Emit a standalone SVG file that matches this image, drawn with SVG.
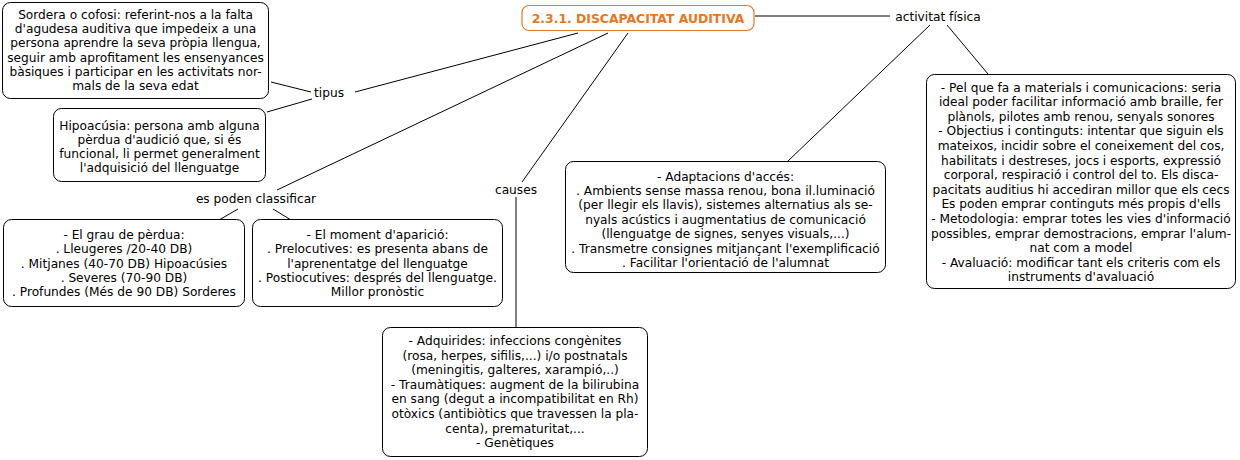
<svg xmlns="http://www.w3.org/2000/svg" width="1240" height="460" viewBox="0 0 1240 460">
<style>
.box{fill:#fff;stroke:#000;stroke-width:1}
.t{font-family:"DejaVu Sans","Liberation Sans",sans-serif;font-size:12.2px;fill:#000;text-anchor:middle}
.title{font-family:"DejaVu Sans","Liberation Sans",sans-serif;font-size:12.4px;font-weight:bold;fill:#e8761e;text-anchor:middle}
.conn line{stroke:#000;stroke-width:1}
</style>
<rect width="1240" height="460" fill="#fff"/>
<g class="conn">
<line x1="755" y1="16" x2="890" y2="16"/>
<line x1="930" y1="25" x2="788" y2="161"/>
<line x1="947" y1="25" x2="988" y2="74"/>
<line x1="578" y1="33" x2="355" y2="92"/>
<line x1="311" y1="92" x2="271" y2="82"/>
<line x1="312" y1="99" x2="267" y2="112"/>
<line x1="608" y1="33" x2="277" y2="190"/>
<line x1="238" y1="209" x2="219" y2="220"/>
<line x1="273" y1="209" x2="291" y2="220"/>
<line x1="628" y1="33" x2="522" y2="182"/>
<line x1="516" y1="197" x2="516" y2="327"/>
</g>
<g id="title">
<rect x="522" y="5.5" width="232" height="25" rx="7" fill="#fff" stroke="#e8761e" stroke-width="1.2"/>
<text class="title" x="638" y="22.5">2.3.1. DISCAPACITAT AUDITIVA</text>
</g>
<g id="activitat"><text class="t" x="938" y="21">activitat física</text></g>
<g id="tipus"><text class="t" x="329" y="97">tipus</text></g>
<g id="classificar"><text class="t" x="256" y="203">es poden classificar</text></g>
<g id="causes"><text class="t" x="516" y="194">causes</text></g>
<g id="sordera">
<rect class="box" x="2.5" y="2.5" width="266" height="96" rx="8"/>
<text class="t" x="135.5"><tspan x="135.5" y="19">Sordera o cofosi: referint-nos a la falta</tspan><tspan x="135.5" y="33.2">d'agudesa auditiva que impedeix a una</tspan><tspan x="135.5" y="47.4">persona aprendre la seva pròpia llengua,</tspan><tspan x="135.5" y="61.6">seguir amb aprofitament les ensenyances</tspan><tspan x="135.5" y="75.8">bàsiques i participar en les activitats nor-</tspan><tspan x="135.5" y="90">mals de la seva edat</tspan></text>
</g>
<g id="hipoacusia">
<rect class="box" x="53.5" y="108.5" width="212" height="73" rx="8"/>
<text class="t"><tspan x="159.5" y="129.5">Hipoacúsia: persona amb alguna</tspan><tspan x="159.5" y="143.7">pèrdua d'audició que, si és</tspan><tspan x="159.5" y="157.9">funcional, li permet generalment</tspan><tspan x="159.5" y="172.1">l'adquisició del llenguatge</tspan></text>
</g>
<g id="grau">
<rect class="box" x="3.5" y="219.5" width="241" height="87" rx="8"/>
<text class="t"><tspan x="124" y="239">- El grau de pèrdua:</tspan><tspan x="124" y="253.2">. Lleugeres /20-40 DB)</tspan><tspan x="124" y="267.5">. Mitjanes (40-70 DB) Hipoacúsies</tspan><tspan x="124" y="281.8">. Severes (70-90 DB)</tspan><tspan x="124" y="296">. Profundes (Més de 90 DB) Sorderes</tspan></text>
</g>
<g id="moment">
<rect class="box" x="252.5" y="219.5" width="250" height="87" rx="8"/>
<text class="t"><tspan x="377.5" y="239">- El moment d'aparició:</tspan><tspan x="377.5" y="253.2">. Prelocutives: es presenta abans de</tspan><tspan x="377.5" y="267.5">l'aprenentatge del llenguatge</tspan><tspan x="377.5" y="281.8">. Postiocutives: després del llenguatge.</tspan><tspan x="377.5" y="296">Millor pronòstic</tspan></text>
</g>
<g id="adquirides">
<rect class="box" x="382.5" y="327.5" width="265" height="129" rx="8"/>
<text class="t"><tspan x="515" y="345">- Adquirides: infeccions congènites</tspan><tspan x="515" y="359.6">(rosa, herpes, sifilis,...) i/o postnatals</tspan><tspan x="515" y="374.2">(meningitis, galteres, xarampió,..)</tspan><tspan x="515" y="388.8">- Traumàtiques: augment de la bilirubina</tspan><tspan x="515" y="403.4">en sang (degut a incompatibilitat en Rh)</tspan><tspan x="515" y="418">otòxics (antibiòtics que travessen la pla-</tspan><tspan x="515" y="432.6">centa), prematuritat,...</tspan><tspan x="515" y="447.2">- Genètiques</tspan></text>
</g>
<g id="adaptacions">
<rect class="box" x="565.5" y="161.5" width="320" height="111" rx="8"/>
<text class="t"><tspan x="725.5" y="180.5">- Adaptacions d'accés:</tspan><tspan x="725.5" y="194.9">. Ambients sense massa renou, bona il.luminació</tspan><tspan x="725.5" y="209.3">(per llegir els llavis), sistemes alternatius als se-</tspan><tspan x="725.5" y="223.7">nyals acústics i augmentatius de comunicació</tspan><tspan x="725.5" y="238.1">(llenguatge de signes, senyes visuals,...)</tspan><tspan x="725.5" y="252.5">. Transmetre consignes mitjançant l'exemplificació</tspan><tspan x="725.5" y="266.9">. Facilitar l'orientació de l'alumnat</tspan></text>
</g>
<g id="activitat-box">
<rect class="box" x="926.5" y="74.5" width="309" height="214" rx="8"/>
<text class="t"><tspan x="1081" y="91.5">- Pel que fa a materials i comunicacions: seria</tspan><tspan x="1081" y="106.1">ideal poder facilitar informació amb braille, fer</tspan><tspan x="1081" y="120.7">plànols, pilotes amb renou, senyals sonores</tspan><tspan x="1081" y="135.3">- Objectius i continguts: intentar que siguin els</tspan><tspan x="1081" y="149.9">mateixos, incidir sobre el coneixement del cos,</tspan><tspan x="1081" y="164.5">habilitats i destreses, jocs i esports, expressió</tspan><tspan x="1081" y="179.1">corporal, respiració i control del to. Els disca-</tspan><tspan x="1081" y="193.7">pacitats auditius hi accediran millor que els cecs</tspan><tspan x="1081" y="208.3">Es poden emprar continguts més propis d'ells</tspan><tspan x="1081" y="222.9">- Metodologia: emprar totes les vies d'informació</tspan><tspan x="1081" y="237.5">possibles, emprar demostracions, emprar l'alum-</tspan><tspan x="1081" y="252.1">nat com a model</tspan><tspan x="1081" y="266.7">- Avaluació: modificar tant els criteris com els</tspan><tspan x="1081" y="281.3">instruments d'avaluació</tspan></text>
</g>
</svg>
